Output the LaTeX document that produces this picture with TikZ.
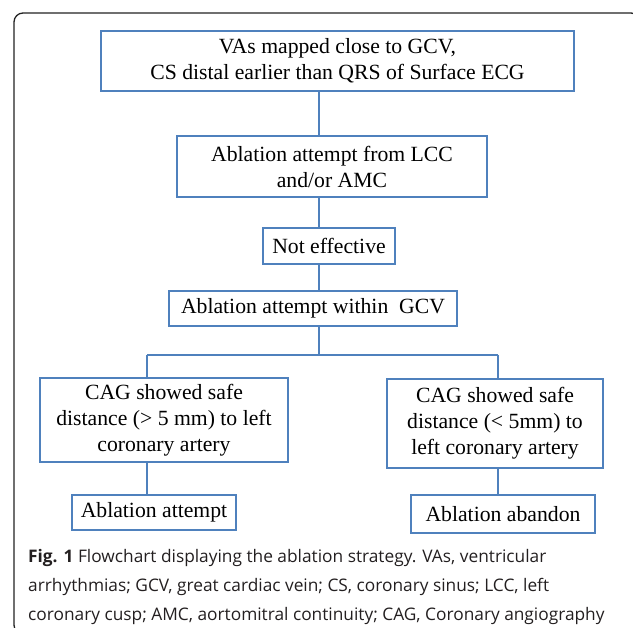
\documentclass[tikz,border=0pt]{standalone}
\usepackage{fontspec}
\setmainfont{Liberation Serif}
\newfontfamily\capfont{Open Sans}
\definecolor{boxblue}{HTML}{4F81BD}
\definecolor{framegray}{HTML}{222222}
\definecolor{captext}{HTML}{231F20}
\begin{document}
\begin{tikzpicture}[x=1pt,y=-1pt,
  box/.style={draw=boxblue, line width=2.3pt, inner sep=0pt, align=center,
    font=\fontsize{21.7}{26}\selectfont},
  conn/.style={draw=boxblue, line width=2.3pt},
  capline/.style={anchor=base west, inner sep=0pt, text=captext,
    font=\capfont\fontsize{17.3}{20}\selectfont},
  frame/.style={draw=framegray, line width=1.3pt, rounded corners=9pt}]
\useasboundingbox (0,0) rectangle (633,628);
\clip (0,0) rectangle (633,628);
\draw[frame] (14,13) rectangle (640,634);

\node[box, minimum width=473pt, minimum height=60pt] (b1) at (337.5,61)
  {VAs mapped close to GCV,\\CS distal earlier than QRS of Surface ECG};
\node[box, minimum width=310pt, minimum height=61pt] (b2) at (332,166.5)
  {Ablation attempt from LCC\\and/or AMC};
\node[box, minimum width=132pt, minimum height=36pt] (b3) at (329,246)
  {Not effective};
\node[box, minimum width=288pt, minimum height=35pt] (b4) at (313,308.5)
  {Ablation attempt within\ \ GCV};
\node[box, minimum width=248pt, minimum height=84pt] (b5) at (164,420)
  {CAG showed safe\\distance (> 5 mm) to left\\coronary artery};
\node[box, minimum width=216pt, minimum height=89pt] (b6) at (495,423.5)
  {CAG showed safe\\distance (< 5mm) to\\left coronary artery};
\node[box, minimum width=164pt, minimum height=35pt] (b7) at (154,512.5)
  {Ablation attempt};
\node[box, minimum width=184pt, minimum height=38pt] (b8) at (503,514)
  {Ablation abandon};

\coordinate (t) at (319,0);
\coordinate (j) at (319,355);
\coordinate (jl) at (147,355);
\coordinate (jr) at (498,355);

\draw[conn] (b1.south -| t) -- (b2.north -| t);
\draw[conn] (b2.south -| t) -- (b3.north -| t);
\draw[conn] (b3.south -| t) -- (b4.north -| t);
\draw[conn] (b4.south -| t) -- (j);
\draw[conn] (jl) -- (jr);
\draw[conn] (jl) -- (b5.north -| jl);
\draw[conn] (jr) -- (b6.north -| jr);
\draw[conn] (b5.south -| jl) -- (b7.north -| jl);
\draw[conn] (b6.south -| jr) -- (b8.north -| jr);

\node[capline] (c1) at (28,563)
  {\textbf{Fig. 1} Flowchart displaying the ablation strategy. VAs, ventricular};
\node[capline] (c2) at (28,592)
  {arrhythmias; GCV, great cardiac vein; CS, coronary sinus; LCC, left};
\node[capline] (c3) at (28,621)
  {coronary cusp; AMC, aortomitral continuity; CAG, Coronary angiography};
\end{tikzpicture}
\end{document}
